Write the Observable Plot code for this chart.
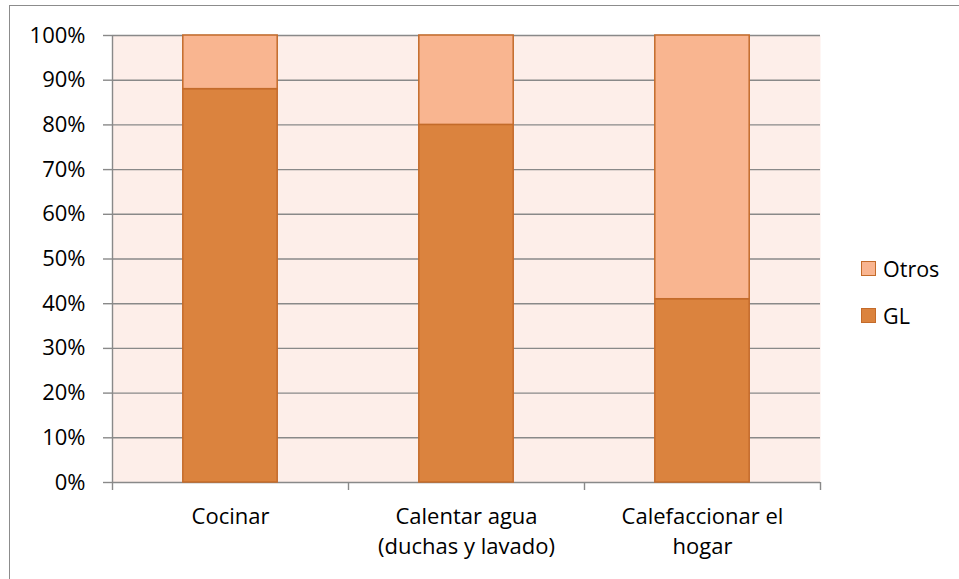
<!DOCTYPE html>
<html>
<head>
<meta charset="utf-8">
<script src="https://cdn.jsdelivr.net/npm/d3@7"></script>
<script src="https://cdn.jsdelivr.net/npm/@observablehq/plot@0.6"></script>
<style>
  html, body { margin: 0; padding: 0; background: #fff; overflow: hidden; }
  #wrap { position: relative; width: 959px; height: 579px; overflow: hidden; }
  #border { position: absolute; left: 9px; top: 5px; width: 1200px; height: 1200px;
            border: 1.5px solid #8c8c8c; box-sizing: border-box; }
  #chart { position: absolute; left: 0; top: 0; }
  #legend { position: absolute; left: 861px; top: 255px; font-family: "Open Sans", sans-serif;
            font-size: 21.5px; color: #000; }
  .item { display: flex; align-items: center; height: 27px; margin-bottom: 20px; }
  .sw { width: 13px; height: 13px; border: 1.5px solid #C46B2A; margin-right: 7px; }
</style>
</head>
<body>
<div id="wrap">
  <div id="border"></div>
  <div id="chart"></div>
  <div id="legend"></div>
</div>
<script>
// Uso de gas licuado (GL) frente a otras fuentes, por tipo de uso del hogar
const categories = ["Cocinar", "Calentar agua\n(duchas y lavado)", "Calefaccionar el\nhogar"];
const series = ["GL", "Otros"];
const glValues = [88, 80, 41];
const otrosValues = [12, 20, 59];
const yTicks = [0, 10, 20, 30, 40, 50, 60, 70, 80, 90, 100];
const seriesColors = ["#DB833E", "#F9B590"];

const rows = categories.flatMap((c, i) => [
  {i, category: c, series: "GL", value: glValues[i]},
  {i, category: c, series: "Otros", value: otrosValues[i]}
]);

const chart = Plot.plot({
  width: 959,
  height: 579,
  marginLeft: 112,
  marginRight: 139,
  marginTop: 35,
  marginBottom: 97,
  x: {type: "linear", domain: [0, categories.length], axis: null},
  y: {domain: [0, 100], axis: null},
  color: {domain: series, range: seriesColors},
  style: {fontFamily: "'Open Sans', sans-serif", fontSize: "22px", color: "#000", background: "transparent", overflow: "visible"},
  marks: [
    Plot.frame({fill: "#FDEEE9", stroke: null}),
    Plot.ruleY(yTicks, {stroke: "#898989", strokeWidth: 1.4}),
    Plot.ruleX([0], {stroke: "#898989", strokeWidth: 1.4}),
    Plot.axisY({ticks: yTicks, tickFormat: d => d + "%", tickSize: 9, tickPadding: 18,
                stroke: "#898989", strokeWidth: 1.4, label: null}),
    Plot.axisX({ticks: d3.range(categories.length + 1), tickFormat: () => "", tickSize: 8,
                stroke: "#898989", strokeWidth: 1.4, label: null}),
    Plot.axisX({ticks: categories.map((c, i) => i + 0.5), tickFormat: d => categories[Math.floor(d)],
                tickSize: 0, tickPadding: 20, lineHeight: 1.38, label: null}),
    Plot.rectY(rows, {x1: d => d.i + 0.3, x2: d => d.i + 0.7, y: "value", fill: "series",
                      stroke: "#C46B2A", strokeWidth: 1.5})
  ]
});
document.getElementById("chart").appendChild(chart);

// Leyenda: Otros arriba, GL abajo
const legend = document.getElementById("legend");
series.slice().reverse().forEach(s => {
  const item = document.createElement("div");
  item.className = "item";
  const sw = document.createElement("div");
  sw.className = "sw";
  sw.style.background = seriesColors[series.indexOf(s)];
  const label = document.createElement("span");
  label.textContent = s;
  item.appendChild(sw);
  item.appendChild(label);
  legend.appendChild(item);
});
</script>
</body>
</html>
